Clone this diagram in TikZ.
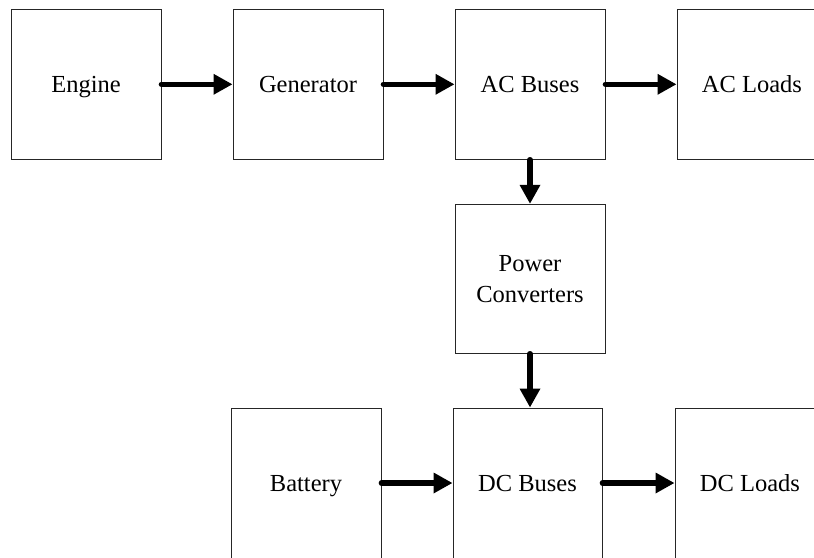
\documentclass[tikz,border=0pt]{standalone}
\usepackage{fontspec}
\setmainfont{Liberation Serif}
\usetikzlibrary{arrows.meta}
\begin{document}
\begin{tikzpicture}[x=1pt,y=-1pt,
  blockbox/.style={draw=black!85, line width=0.9pt, minimum width=150pt, minimum height=150pt,
    inner sep=0pt, align=center, font=\fontsize{24.5}{31}\selectfont},
  oneline/.style={text height=20pt, text depth=4pt},
  flow/.style={line width=5.5pt, line cap=round, -{Triangle[length=19pt,width=19.5pt]}}]
  \useasboundingbox (0,0) rectangle (814,557);
  % top row: generation chain
  \node[blockbox, oneline] (eng) at (86,84.3) {Engine};
  \node[blockbox, oneline] (gen) at (308,84.3) {Generator};
  \node[blockbox, oneline] (acb) at (530,84.3) {AC Buses};
  \node[blockbox, oneline] (acl) at (752,84.3) {AC Loads};
  % conversion stage
  \node[blockbox, minimum height=149pt] (pc) at (530,278.8) {Power\\Converters};
  % bottom row: DC side
  \node[blockbox, oneline] (bat) at (306,483) {Battery};
  \node[blockbox, oneline, minimum width=149pt] (dcb) at (527.5,483) {DC Buses};
  \node[blockbox, oneline] (dcl) at (750,483) {DC Loads};
  % power flow
  \draw[flow] (eng.east) -- (gen.west);
  \draw[flow] (gen.east) -- (acb.west);
  \draw[flow] (acb.east) -- (acl.west);
  \draw[flow] (acb.south) -- (pc.north);
  \draw[flow] (pc.south) -- (pc.south |- dcb.north);
  \draw[flow] (bat.east) -- (dcb.west);
  \draw[flow] (dcb.east) -- (dcl.west);
\end{tikzpicture}
\end{document}
